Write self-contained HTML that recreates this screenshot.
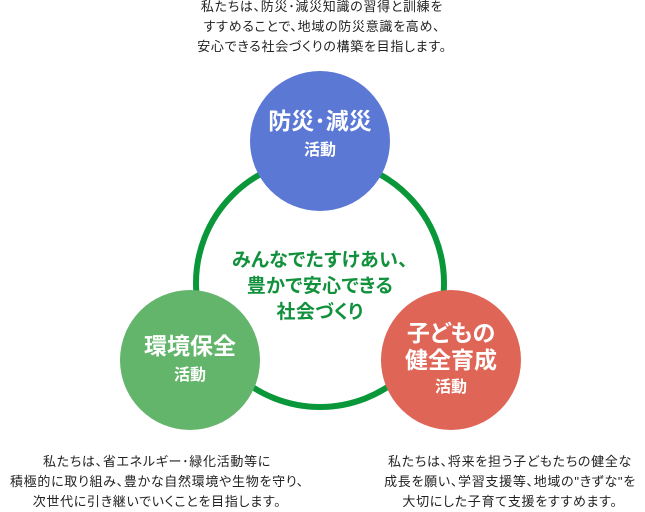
<!DOCTYPE html>
<html><head><meta charset="utf-8"><style>
body{margin:0;width:645px;height:512px;background:#fff;position:relative;overflow:hidden;font-family:"Liberation Sans","Noto Sans CJK JP",sans-serif;font-feature-settings:"palt";}
.t{position:absolute;text-align:center;font-size:13px;letter-spacing:0.7px;line-height:20px;color:#222;white-space:nowrap}
.c{position:absolute;border-radius:50%;color:#fff;text-align:center;display:flex;flex-direction:column;justify-content:center;align-items:center;font-weight:bold}
</style></head><body>
<div class="t" style="left:122px;width:400px;top:-3px">私たちは、防災･減災知識の習得と訓練を<br>すすめることで、地域の防災意識を高め、<br>安心できる社会づくりの構築を目指します。</div>
<svg width="645" height="512" style="position:absolute;left:0;top:0">
<circle cx="320" cy="283" r="124" fill="none" stroke="#0a973a" stroke-width="6"/>
</svg>
<div class="c" style="left:250px;top:71px;width:140px;height:140px;background:#5b78d5"><div style="font-size:23px;line-height:30px;margin-top:-10px">防災･減災</div><div style="font-size:16px;line-height:30px">活動</div></div>
<div class="c" style="left:120px;top:290px;width:140px;height:140px;background:#64b56c"><div style="font-size:23px;line-height:30px;margin-top:2px">環境保全</div><div style="font-size:16px;line-height:30px">活動</div></div>
<div class="c" style="left:381px;top:290px;width:140px;height:140px;background:#df6657"><div style="font-size:23px;line-height:27px;margin-top:2px">子どもの<br>健全育成</div><div style="font-size:16px;line-height:28px">活動</div></div>
<div class="t" style="left:170px;width:300px;top:248px;font-size:19px;letter-spacing:0.3px;line-height:26px;font-weight:bold;color:#12913d">みんなでたすけあい、<br>豊かで安心できる<br>社会づくり</div>
<div class="t" style="left:0;width:314px;top:452px">私たちは、省エネルギー･緑化活動等に<br>積極的に取り組み、豊かな自然環境や生物を守り、<br>次世代に引き継いでいくことを目指します。</div>
<div class="t" style="left:360px;width:300px;top:452px">私たちは、将来を担う子どもたちの健全な<br>成長を願い、学習支援等、地域の"きずな"を<br>大切にした子育て支援をすすめます。</div>
</body></html>
